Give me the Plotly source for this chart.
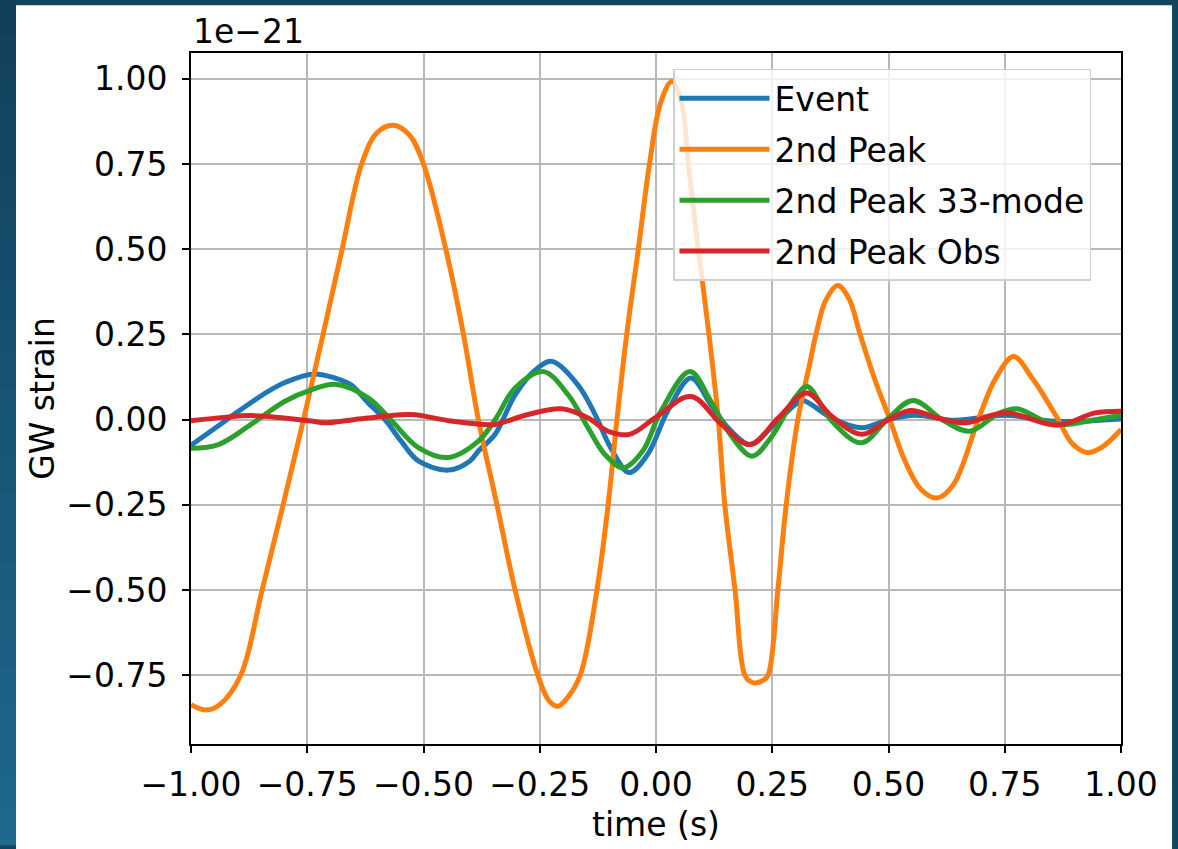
import plotly.graph_objects as go

# ---------------- data (strain in units of 1e-21) ----------------
t_event = [-1.000, -0.941, -0.905, -0.834, -0.798, -0.737, -0.690, -0.656, -0.619, -0.583,
           -0.548, -0.511, -0.447, -0.400, -0.382, -0.346, -0.303, -0.260, -0.224, -0.168,
           -0.131, -0.0975, -0.058, -0.018, 0.025, 0.075, 0.118, 0.155, 0.202, 0.247,
           0.299, 0.315, 0.378, 0.442, 0.500, 0.557, 0.643, 0.751, 0.858, 1.000]
v_event = [-0.075, -0.018, 0.018, 0.083, 0.109, 0.134, 0.122, 0.102, 0.049, 0.000,
           -0.063, -0.121, -0.148, -0.121, -0.092, -0.043, 0.073, 0.145, 0.171, 0.102,
           0.015, -0.082, -0.155, -0.102, 0.025, 0.122, 0.044, -0.024, -0.073, -0.024,
           0.044, 0.056, 0.005, -0.024, 0.000, 0.013, -0.002, 0.013, -0.005, 0.002]

t_peak2 = [-1.000, -0.968, -0.938, -0.893, -0.847, -0.802, -0.758, -0.716, -0.675, -0.633,
           -0.600, -0.565, -0.530, -0.500, -0.452, -0.414, -0.382, -0.342, -0.303, -0.254,
           -0.230, -0.211, -0.190, -0.163, -0.127, -0.103, -0.084, -0.063, -0.038, -0.014,
           0.010, 0.034, 0.055, 0.0695, 0.091, 0.114, 0.134, 0.148, 0.170, 0.191,
           0.205, 0.217, 0.230, 0.241, 0.262, 0.280, 0.305, 0.330, 0.344, 0.365,
           0.391, 0.415, 0.439, 0.470, 0.503, 0.535, 0.570, 0.604, 0.640, 0.693,
           0.730, 0.769, 0.810, 0.865, 0.895, 0.928, 0.960, 1.000]
v_peak2 = [-0.836, -0.852, -0.836, -0.750, -0.500, -0.250, 0.000, 0.250, 0.500, 0.750,
           0.842, 0.864, 0.835, 0.750, 0.500, 0.250, 0.000, -0.250, -0.500, -0.750,
           -0.825, -0.841, -0.815, -0.750, -0.500, -0.250, 0.000, 0.250, 0.500, 0.750,
           0.930, 0.992, 0.930, 0.750, 0.500, 0.250, 0.000, -0.250, -0.500, -0.750,
           -0.770, -0.772, -0.765, -0.750, -0.500, -0.250, 0.000, 0.160, 0.250, 0.350,
           0.394, 0.355, 0.250, 0.120, 0.000, -0.120, -0.205, -0.230, -0.190, 0.000,
           0.120, 0.185, 0.120, 0.000, -0.070, -0.097, -0.080, -0.029]

t_mode33 = [-1.000, -0.941, -0.871, -0.798, -0.740, -0.690, -0.619, -0.568, -0.511, -0.447,
            -0.382, -0.346, -0.303, -0.242, -0.189, -0.146, -0.110, -0.070, -0.0286, 0.0107,
            0.073, 0.118, 0.155, 0.206, 0.247, 0.299, 0.325, 0.378, 0.442, 0.500,
            0.553, 0.620, 0.675, 0.735, 0.776, 0.837, 0.880, 0.944, 1.000]
v_mode33 = [-0.084, -0.073, -0.014, 0.054, 0.088, 0.104, 0.064, -0.004, -0.082, -0.111,
            -0.063, 0.000, 0.093, 0.141, 0.073, -0.024, -0.102, -0.141, -0.092, 0.025,
            0.141, 0.054, -0.034, -0.107, -0.053, 0.064, 0.097, -0.004, -0.068, 0.005,
            0.056, -0.004, -0.034, 0.017, 0.032, -0.005, -0.014, 0.000, 0.013]

t_obs = [-1.000, -0.935, -0.871, -0.800, -0.742, -0.713, -0.650, -0.583, -0.526, -0.441,
         -0.369, -0.346, -0.275, -0.203, -0.146, -0.103, -0.057, -0.002, 0.075, 0.141,
         0.202, 0.263, 0.324, 0.378, 0.442, 0.500, 0.548, 0.605, 0.665, 0.751,
         0.865, 0.944, 1.000]
v_obs = [-0.003, 0.006, 0.012, 0.005, -0.004, -0.009, 0.000, 0.010, 0.015, -0.004,
         -0.014, -0.014, 0.015, 0.032, 0.005, -0.034, -0.043, 0.005, 0.068, -0.014,
         -0.073, 0.005, 0.078, 0.010, -0.043, 0.000, 0.027, 0.005, -0.009, 0.020,
         -0.016, 0.020, 0.025]

series_names = ["Event", "2nd Peak", "2nd Peak 33-mode", "2nd Peak Obs"]
series_colors = ["#1f77b4", "#ff7f0e", "#2ca02c", "#d62728"]
x_ticks = [-1.0, -0.75, -0.5, -0.25, 0.0, 0.25, 0.5, 0.75, 1.0]
y_ticks = [-0.75, -0.5, -0.25, 0.0, 0.25, 0.5, 0.75, 1.0]

# ---------------- figure ----------------
W, H = 1178, 849
ML, MR, MT, MB = 191, 57, 53, 101
PW, PH = W - ML - MR, H - MT - MB
FONT = "DejaVu Sans"
FS = 33


def px_x(p):
    return (p - ML) / PW


def px_y(p):
    return (H - MB - p) / PH


fig = go.Figure()
for i, (tt, vv) in enumerate([(t_event, v_event), (t_peak2, v_peak2),
                              (t_mode33, v_mode33), (t_obs, v_obs)]):
    fig.add_trace(go.Scatter(
        x=tt, y=vv, mode="lines", name=series_names[i],
        line=dict(color=series_colors[i], width=5, shape="spline", smoothing=1.0),
        legendgroup=f"g{i}"))

shapes = []
# gradient frame on the left
n = 24
c0 = (18, 64, 92)
c1 = (30, 105, 140)
for k in range(n):
    f = k / (n - 1)
    col = "rgb(%d,%d,%d)" % tuple(int(round(a + (b - a) * f)) for a, b in zip(c0, c1))
    y_top = k * H / n
    y_bot = (k + 1) * H / n + 1
    shapes.append(dict(type="rect", xref="paper", yref="paper", layer="below",
                       x0=px_x(0), x1=px_x(17), y0=px_y(y_bot), y1=px_y(y_top),
                       fillcolor=col, line=dict(width=0)))
# white figure panel
shapes.append(dict(type="rect", xref="paper", yref="paper", layer="below",
                   x0=px_x(16), x1=px_x(1172), y0=px_y(H + 5), y1=px_y(5),
                   fillcolor="white", line=dict(width=0)))

axis_common = dict(
    showline=True, linecolor="black", linewidth=2, mirror=True,
    ticks="outside", ticklen=7, tickwidth=2, tickcolor="black",
    showgrid=True, gridcolor="#b8b8b8", gridwidth=1.5,
    zeroline=False, tickfont=dict(family=FONT, size=FS, color="black"),
)

fig.update_layout(
    width=W, height=H,
    margin=dict(l=ML, r=MR, t=MT, b=MB),
    paper_bgcolor="#134560", plot_bgcolor="white",
    font=dict(family=FONT, size=FS, color="black"),
    shapes=shapes,
    xaxis=dict(range=[-1, 1], tickvals=x_ticks, tickformat=".2f",
               title=dict(text="time (s)", font=dict(family=FONT, size=FS), standoff=10),
               ticklabelstandoff=3, **axis_common),
    yaxis=dict(range=[-0.9516, 1.0758], tickvals=y_ticks, tickformat=".2f",
               title=dict(text="GW strain", font=dict(family=FONT, size=FS), standoff=2),
               ticklabelstandoff=8, **axis_common),
    legend=dict(x=px_x(673), y=px_y(69), xanchor="left", yanchor="top",
                bgcolor="rgba(255,255,255,0.8)", bordercolor="#d0d0d0", borderwidth=1.5,
                font=dict(family=FONT, size=FS, color="black"),
                itemwidth=90, tracegroupgap=5),
    annotations=[dict(text="1e\u221221", xref="paper", yref="paper", x=0, y=1,
                      xanchor="left", yanchor="bottom", showarrow=False,
                      font=dict(family=FONT, size=FS, color="black"))],
)

fig.write_html("out.html")
